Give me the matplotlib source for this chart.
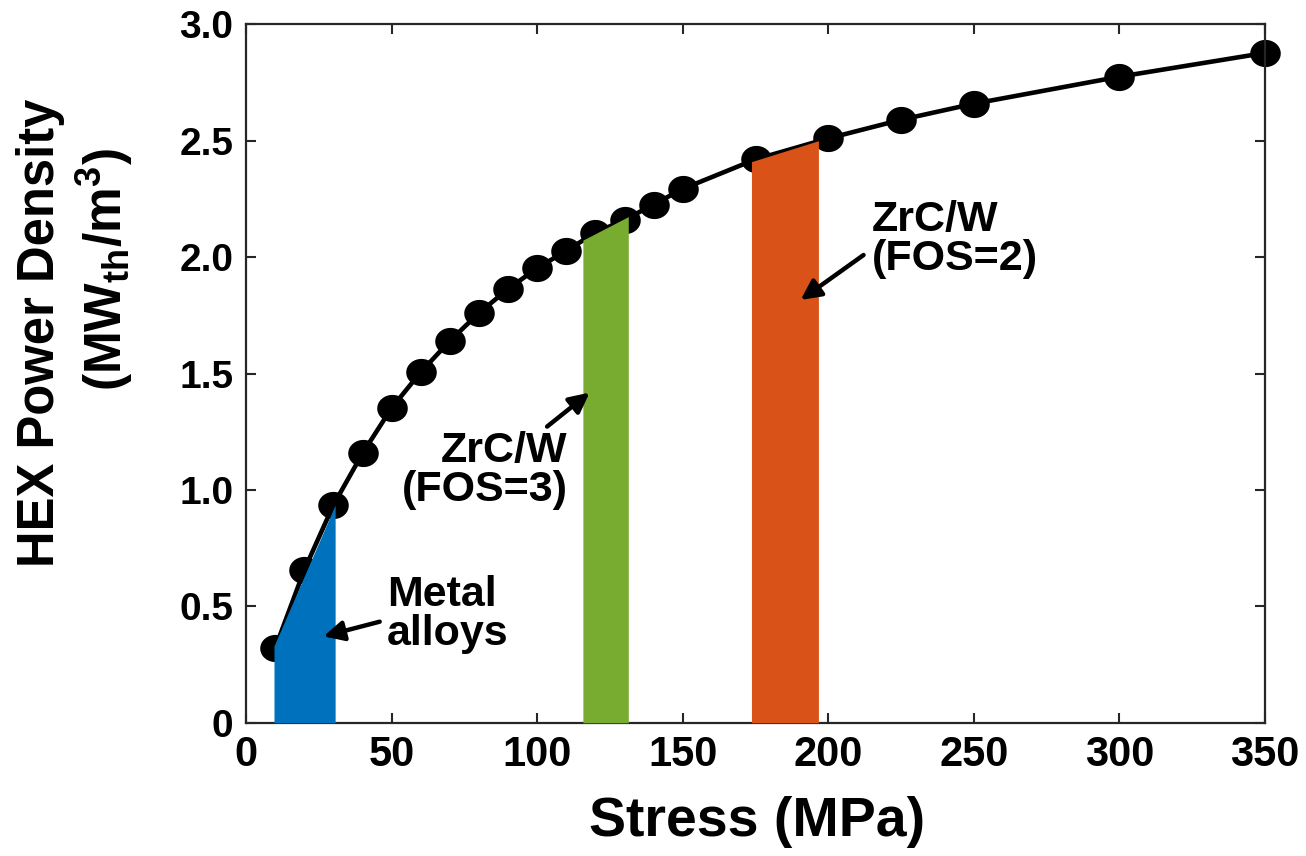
import numpy as np
import matplotlib
matplotlib.use('Agg')
import matplotlib.pyplot as plt
from matplotlib.path import Path

plt.rcParams['font.family'] = ['Liberation Sans', 'DejaVu Sans']
plt.rcParams['font.weight'] = 'bold'
plt.rcParams['mathtext.fontset'] = 'custom'
plt.rcParams['mathtext.rm'] = 'Liberation Sans:bold'
plt.rcParams['mathtext.it'] = 'Liberation Sans:bold'
plt.rcParams['mathtext.bf'] = 'Liberation Sans:bold'

# data
stress = [10, 20, 30, 40, 50, 60, 70, 80, 90, 100, 110, 120, 130, 140, 150,
          175, 200, 225, 250, 300, 350]
power = [0.32, 0.656, 0.935, 1.157, 1.352, 1.506, 1.640, 1.760, 1.863, 1.953,
         2.027, 2.105, 2.160, 2.226, 2.293, 2.420, 2.510, 2.590, 2.659, 2.775, 2.877]

# shaded material ranges: (x start, x end), (top at start, top at end)
metal_x, metal_top = [9.6, 30.6], [0.33, 0.935]
fos3_x, fos3_top = [115.7, 131.3], [2.073, 2.174]
fos2_x, fos2_top = [173.6, 196.6], [2.41, 2.50]

xticks = [0, 50, 100, 150, 200, 250, 300, 350]
yticks = [0, 0.5, 1.0, 1.5, 2.0, 2.5, 3.0]
ytick_labels = ['0', '0.5', '1.0', '1.5', '2.0', '2.5', '3.0']

fig = plt.figure(figsize=(13.06, 8.56), dpi=100)
ax = fig.add_axes([0.1884, 0.1557, 0.7802, 0.8159])

t = np.linspace(0, 2 * np.pi, 64)
ellipse = Path(np.column_stack([np.cos(t), 0.89 * np.sin(t)]), closed=True)

ax.plot(stress, power, color='black', lw=3.3, marker=ellipse, markersize=22,
        markeredgewidth=0, zorder=2, clip_on=False)

ax.fill_between(metal_x, 0, metal_top, color='#0072BD', lw=0, zorder=3)
ax.fill_between(fos3_x, 0, fos3_top, color='#77AC30', lw=0, zorder=3)
ax.fill_between(fos2_x, 0, fos2_top, color='#D95319', lw=0, zorder=3)

arrow = dict(arrowstyle='-|>', lw=3.2, color='black', mutation_scale=30,
             shrinkA=0, shrinkB=0)
ax.annotate('', xy=(26.6, 0.371), xytext=(45.9, 0.434), arrowprops=arrow, zorder=4)
ax.annotate('', xy=(118.0, 1.418), xytext=(103.4, 1.272), arrowprops=arrow, zorder=4)
ax.annotate('', xy=(190.5, 1.816), xytext=(212.1, 2.009), arrowprops=arrow, zorder=4)

ax.text(48.5, 0.635, 'Metal\nalloys', fontsize=31, fontweight='bold',
        ha='left', va='top', linespacing=0.98)
ax.text(110.4, 1.255, 'ZrC/W\n(FOS=3)', fontsize=31, fontweight='bold',
        ha='right', va='top', multialignment='right', linespacing=0.98)
ax.text(215, 2.245, 'ZrC/W\n(FOS=2)', fontsize=31, fontweight='bold',
        ha='left', va='top', linespacing=0.98)

ax.set_xlim(0, 350)
ax.set_ylim(0, 3.0)
ax.set_xticks(xticks)
ax.set_yticks(yticks)
ax.set_yticklabels(ytick_labels)
for lab in ax.get_xticklabels():
    lab.set_fontsize(30)
    lab.set_fontweight('bold')
for lab in ax.get_yticklabels():
    lab.set_fontsize(28)
    lab.set_fontweight('bold')
ax.tick_params(direction='in', length=7, width=1.5, color='#262626',
               top=True, right=True)
ax.tick_params(axis='x', pad=9)
ax.tick_params(axis='y', pad=9)
for sp in ax.spines.values():
    sp.set_linewidth(1.6)
    sp.set_color('#262626')

fig.text(757 / 1306, 1 - 822 / 856, 'Stress (MPa)', fontsize=40,
         fontweight='bold', ha='center', va='center')
fig.text(41 / 1306, 1 - 333 / 856, 'HEX Power Density', fontsize=36.5,
         fontweight='bold', rotation=90, ha='center', va='center')
fig.text(105 / 1306, 1 - 270 / 856, r'(MW$_{\mathrm{th}}$/m$^{3}$)', fontsize=37,
         fontweight='bold', rotation=90, ha='center', va='center')

fig.savefig('out.png', dpi=100)
